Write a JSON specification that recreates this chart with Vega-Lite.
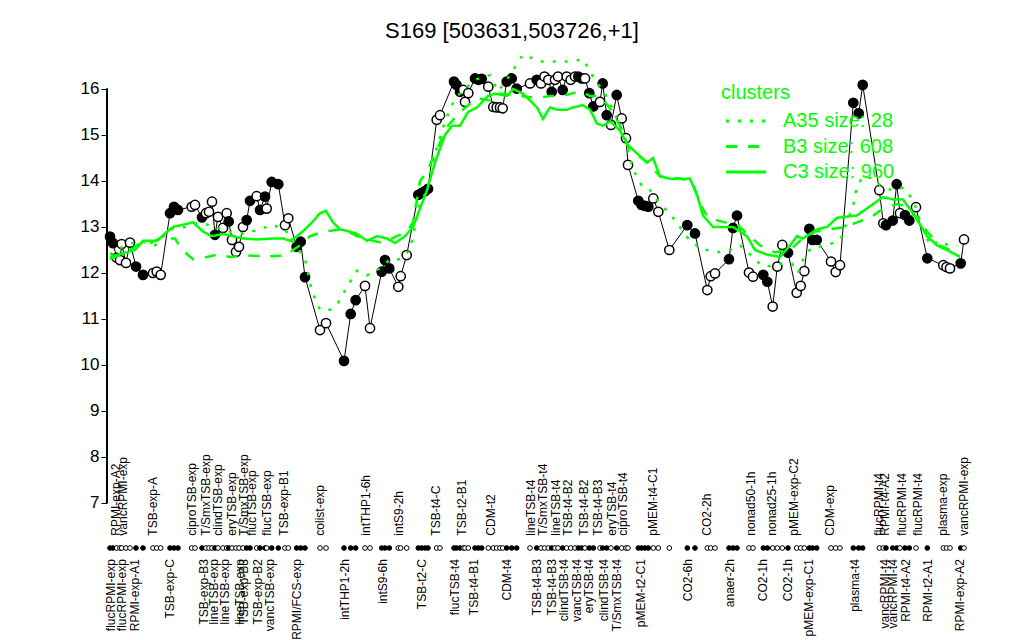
{
"$schema": "https://vega.github.io/schema/vega-lite/v6.json",
"width": 1024, "height": 580,
"autosize": "none",
"padding": {"left": 0, "top": 60, "right": 0, "bottom": 0},
"background": "white",
"title": {"text": "S169 [503631,503726,+1]", "fontSize": 22, "font": "Liberation Sans", "fontWeight": "normal", "anchor": "middle", "frame": "group", "offset": 6, "color": "black"},
"config": {"view": {"stroke": null}},
"datasets": {
"pts": [
{"p":110,"v":12.79,"f":1},{"p":113,"v":12.65,"f":1},{"p":116.7,"v":12.33,"f":0},{"p":120,"v":12.28,"f":0},{"p":121.7,"v":12.63,"f":0},{"p":126,"v":12.22,"f":0},{"p":130,"v":12.66,"f":0},{"p":136,"v":12.14,"f":1},{"p":143,"v":11.96,"f":1},{"p":153,"v":12.0,"f":0},{"p":156.7,"v":12.03,"f":0},{"p":160.7,"v":11.96,"f":0},
{"p":170,"v":13.3,"f":1},{"p":174,"v":13.44,"f":1},{"p":178,"v":13.37,"f":1},{"p":191.7,"v":13.44,"f":0},{"p":195,"v":13.48,"f":0},
{"p":202,"v":13.21,"f":1},{"p":206,"v":13.3,"f":0},{"p":209,"v":13.33,"f":0},{"p":212,"v":13.55,"f":0},{"p":215,"v":12.83,"f":1},{"p":218,"v":13.22,"f":0},{"p":223,"v":12.98,"f":0},{"p":226.7,"v":13.3,"f":0},{"p":228.7,"v":13.12,"f":1},{"p":232,"v":12.72,"f":0},{"p":236,"v":12.46,"f":0},{"p":239,"v":12.57,"f":0},{"p":243,"v":13.0,"f":0},{"p":246.7,"v":13.15,"f":1},{"p":250,"v":13.57,"f":1},{"p":256.7,"v":13.67,"f":0},{"p":260,"v":13.37,"f":1},{"p":265,"v":13.66,"f":1},{"p":266.7,"v":13.4,"f":0},{"p":271.7,"v":13.98,"f":1},{"p":278.3,"v":13.93,"f":1},{"p":285,"v":13.04,"f":0},{"p":288.3,"v":13.19,"f":0},{"p":296.7,"v":12.57,"f":1},{"p":300.7,"v":12.68,"f":1},{"p":305,"v":11.91,"f":1},
{"p":320,"v":10.76,"f":0},{"p":326,"v":10.91,"f":0},{"p":344,"v":10.09,"f":1},{"p":350.7,"v":11.11,"f":1},{"p":355.7,"v":11.41,"f":1},{"p":365,"v":11.72,"f":0},{"p":370,"v":10.8,"f":0},{"p":381.7,"v":12.03,"f":1},{"p":385,"v":12.28,"f":1},{"p":389.3,"v":12.1,"f":1},{"p":398.3,"v":11.7,"f":0},{"p":400.7,"v":11.93,"f":0},{"p":406.7,"v":12.39,"f":0},
{"p":418.3,"v":13.7,"f":1},{"p":421.7,"v":13.74,"f":1},{"p":425,"v":13.78,"f":1},{"p":428,"v":13.83,"f":1},{"p":436.7,"v":15.33,"f":0},{"p":440,"v":15.43,"f":0},{"p":454,"v":16.16,"f":1},{"p":456.5,"v":16.09,"f":1},{"p":460,"v":15.94,"f":1},{"p":463.3,"v":15.98,"f":0},{"p":465,"v":15.72,"f":0},{"p":468.3,"v":15.91,"f":0},{"p":475,"v":16.23,"f":1},{"p":478.3,"v":16.2,"f":1},{"p":481.7,"v":16.22,"f":1},
{"p":488.3,"v":16.05,"f":0},{"p":493.3,"v":15.61,"f":0},{"p":496.7,"v":15.6,"f":0},{"p":500,"v":15.6,"f":0},{"p":502.7,"v":15.58,"f":0},{"p":506.7,"v":16.16,"f":1},{"p":511.7,"v":16.23,"f":1},{"p":516.7,"v":16.01,"f":1},
{"p":530,"v":16.12,"f":0},{"p":536.7,"v":16.2,"f":1},{"p":541,"v":16.12,"f":0},{"p":544.5,"v":16.27,"f":0},{"p":548.3,"v":16.2,"f":0},{"p":551.7,"v":15.94,"f":1},{"p":555,"v":16.2,"f":0},{"p":558,"v":16.27,"f":0},{"p":562.7,"v":15.98,"f":1},{"p":566.7,"v":16.27,"f":0},{"p":570.7,"v":16.2,"f":0},{"p":575,"v":16.27,"f":0},{"p":578.3,"v":16.27,"f":1},{"p":581.7,"v":16.23,"f":1},{"p":585,"v":16.23,"f":0},{"p":589.3,"v":15.91,"f":1},{"p":593.3,"v":15.62,"f":1},{"p":600,"v":15.72,"f":0},{"p":602.7,"v":16.12,"f":1},{"p":606.7,"v":15.43,"f":1},{"p":611,"v":15.22,"f":0},{"p":616.7,"v":15.87,"f":1},{"p":621.7,"v":15.36,"f":0},{"p":626,"v":14.93,"f":0},{"p":628,"v":14.35,"f":0},
{"p":638.3,"v":13.57,"f":1},{"p":641.5,"v":13.48,"f":1},{"p":645,"v":13.46,"f":1},{"p":648.3,"v":13.44,"f":1},{"p":653.3,"v":13.62,"f":0},{"p":658.3,"v":13.33,"f":0},{"p":669.3,"v":12.5,"f":0},
{"p":687.3,"v":13.04,"f":1},{"p":695,"v":12.86,"f":1},{"p":707.3,"v":11.63,"f":0},{"p":710.7,"v":11.93,"f":0},{"p":715,"v":11.99,"f":0},{"p":729,"v":12.3,"f":1},{"p":733,"v":12.98,"f":1},{"p":737,"v":13.25,"f":1},{"p":749,"v":12.01,"f":0},{"p":753,"v":11.92,"f":0},{"p":763.3,"v":11.96,"f":1},{"p":767.3,"v":11.81,"f":1},{"p":772.7,"v":11.27,"f":0},{"p":777.3,"v":12.14,"f":0},{"p":782.3,"v":12.61,"f":0},{"p":788,"v":12.44,"f":1},{"p":796.7,"v":11.57,"f":0},{"p":800.7,"v":11.72,"f":0},{"p":804.3,"v":12.04,"f":0},{"p":809.3,"v":12.96,"f":1},{"p":812.5,"v":12.72,"f":1},{"p":816.7,"v":12.72,"f":1},{"p":831,"v":12.25,"f":0},{"p":835.7,"v":12.02,"f":0},{"p":840,"v":12.17,"f":0},
{"p":853.3,"v":15.7,"f":1},{"p":858.7,"v":15.47,"f":1},{"p":862.7,"v":16.09,"f":1},{"p":879.3,"v":13.8,"f":0},{"p":883.3,"v":13.08,"f":0},{"p":886,"v":13.04,"f":1},{"p":892.7,"v":13.14,"f":1},{"p":896.7,"v":13.93,"f":1},{"p":900,"v":13.3,"f":0},{"p":905,"v":13.26,"f":1},{"p":909.3,"v":13.14,"f":1},{"p":916,"v":13.43,"f":0},{"p":927.3,"v":12.32,"f":1},{"p":943.3,"v":12.17,"f":0},{"p":946.5,"v":12.13,"f":0},{"p":950,"v":12.1,"f":0},{"p":960.7,"v":12.21,"f":1},{"p":964,"v":12.73,"f":0}
],
"lines": [
{"c":"C3 size: 960","p":110,"v":12.35},{"c":"C3 size: 960","p":135,"v":12.5},{"c":"C3 size: 960","p":143,"v":12.7},{"c":"C3 size: 960","p":157,"v":12.7},{"c":"C3 size: 960","p":167,"v":12.9},{"c":"C3 size: 960","p":173,"v":13.0},{"c":"C3 size: 960","p":193,"v":13.1},{"c":"C3 size: 960","p":203,"v":12.9},{"c":"C3 size: 960","p":212,"v":12.8},{"c":"C3 size: 960","p":223,"v":12.85},{"c":"C3 size: 960","p":233,"v":12.8},{"c":"C3 size: 960","p":243,"v":12.75},{"c":"C3 size: 960","p":257,"v":12.73},{"c":"C3 size: 960","p":273,"v":12.75},{"c":"C3 size: 960","p":283,"v":12.75},{"c":"C3 size: 960","p":290,"v":12.7},{"c":"C3 size: 960","p":297,"v":12.8},{"c":"C3 size: 960","p":305,"v":12.95},{"c":"C3 size: 960","p":312,"v":13.1},{"c":"C3 size: 960","p":320,"v":13.3},{"c":"C3 size: 960","p":326,"v":13.35},{"c":"C3 size: 960","p":333,"v":13.1},{"c":"C3 size: 960","p":340,"v":12.95},{"c":"C3 size: 960","p":350,"v":12.9},{"c":"C3 size: 960","p":357,"v":12.85},{"c":"C3 size: 960","p":367,"v":12.7},{"c":"C3 size: 960","p":377,"v":12.8},{"c":"C3 size: 960","p":387,"v":12.75},{"c":"C3 size: 960","p":395,"v":12.65},{"c":"C3 size: 960","p":405,"v":12.8},{"c":"C3 size: 960","p":413,"v":13.0},{"c":"C3 size: 960","p":420,"v":13.4},{"c":"C3 size: 960","p":427,"v":13.8},{"c":"C3 size: 960","p":435,"v":14.4},{"c":"C3 size: 960","p":445,"v":15.0},{"c":"C3 size: 960","p":452,"v":15.2},{"c":"C3 size: 960","p":460,"v":15.2},{"c":"C3 size: 960","p":468,"v":15.5},{"c":"C3 size: 960","p":477,"v":15.6},{"c":"C3 size: 960","p":488,"v":15.85},{"c":"C3 size: 960","p":495,"v":15.9},{"c":"C3 size: 960","p":507,"v":15.85},{"c":"C3 size: 960","p":513,"v":16.0},{"c":"C3 size: 960","p":523,"v":15.9},{"c":"C3 size: 960","p":530,"v":15.75},{"c":"C3 size: 960","p":537,"v":15.6},{"c":"C3 size: 960","p":543,"v":15.35},{"c":"C3 size: 960","p":550,"v":15.6},{"c":"C3 size: 960","p":557,"v":15.55},{"c":"C3 size: 960","p":567,"v":15.55},{"c":"C3 size: 960","p":573,"v":15.6},{"c":"C3 size: 960","p":583,"v":15.65},{"c":"C3 size: 960","p":590,"v":15.55},{"c":"C3 size: 960","p":597,"v":15.25},{"c":"C3 size: 960","p":603,"v":15.2},{"c":"C3 size: 960","p":610,"v":15.3},{"c":"C3 size: 960","p":620,"v":15.1},{"c":"C3 size: 960","p":627,"v":14.8},{"c":"C3 size: 960","p":637,"v":14.6},{"c":"C3 size: 960","p":647,"v":14.4},{"c":"C3 size: 960","p":653,"v":14.5},{"c":"C3 size: 960","p":660,"v":14.1},{"c":"C3 size: 960","p":670,"v":14.05},{"c":"C3 size: 960","p":690,"v":14.05},{"c":"C3 size: 960","p":697,"v":13.7},{"c":"C3 size: 960","p":703,"v":13.25},{"c":"C3 size: 960","p":713,"v":13.0},{"c":"C3 size: 960","p":733,"v":13.0},{"c":"C3 size: 960","p":747,"v":12.8},{"c":"C3 size: 960","p":755,"v":12.5},{"c":"C3 size: 960","p":767,"v":12.4},{"c":"C3 size: 960","p":780,"v":12.35},{"c":"C3 size: 960","p":790,"v":12.6},{"c":"C3 size: 960","p":797,"v":12.8},{"c":"C3 size: 960","p":803,"v":12.75},{"c":"C3 size: 960","p":817,"v":12.95},{"c":"C3 size: 960","p":827,"v":13.0},{"c":"C3 size: 960","p":837,"v":13.2},{"c":"C3 size: 960","p":857,"v":13.25},{"c":"C3 size: 960","p":870,"v":13.45},{"c":"C3 size: 960","p":883,"v":13.65},{"c":"C3 size: 960","p":893,"v":13.6},{"c":"C3 size: 960","p":903,"v":13.6},{"c":"C3 size: 960","p":913,"v":13.3},{"c":"C3 size: 960","p":923,"v":12.95},{"c":"C3 size: 960","p":927,"v":12.8},{"c":"C3 size: 960","p":937,"v":12.6},{"c":"C3 size: 960","p":947,"v":12.5},{"c":"C3 size: 960","p":960,"v":12.35},
{"c":"B3 size: 608","p":110,"v":12.3},{"c":"B3 size: 608","p":130,"v":12.5},{"c":"B3 size: 608","p":140,"v":12.65},{"c":"B3 size: 608","p":150,"v":12.65},{"c":"B3 size: 608","p":160,"v":12.75},{"c":"B3 size: 608","p":175,"v":12.75},{"c":"B3 size: 608","p":182,"v":12.5},{"c":"B3 size: 608","p":193,"v":12.3},{"c":"B3 size: 608","p":207,"v":12.35},{"c":"B3 size: 608","p":217,"v":12.4},{"c":"B3 size: 608","p":230,"v":12.35},{"c":"B3 size: 608","p":247,"v":12.38},{"c":"B3 size: 608","p":267,"v":12.36},{"c":"B3 size: 608","p":287,"v":12.38},{"c":"B3 size: 608","p":293,"v":12.5},{"c":"B3 size: 608","p":300,"v":12.6},{"c":"B3 size: 608","p":310,"v":12.8},{"c":"B3 size: 608","p":323,"v":12.9},{"c":"B3 size: 608","p":343,"v":12.95},{"c":"B3 size: 608","p":357,"v":12.8},{"c":"B3 size: 608","p":373,"v":12.7},{"c":"B3 size: 608","p":383,"v":12.65},{"c":"B3 size: 608","p":397,"v":12.8},{"c":"B3 size: 608","p":407,"v":12.9},{"c":"B3 size: 608","p":413,"v":13.1},{"c":"B3 size: 608","p":420,"v":14.0},{"c":"B3 size: 608","p":427,"v":14.2},{"c":"B3 size: 608","p":435,"v":14.6},{"c":"B3 size: 608","p":448,"v":15.2},{"c":"B3 size: 608","p":460,"v":15.5},{"c":"B3 size: 608","p":477,"v":15.8},{"c":"B3 size: 608","p":490,"v":15.75},{"c":"B3 size: 608","p":500,"v":15.9},{"c":"B3 size: 608","p":520,"v":15.85},{"c":"B3 size: 608","p":537,"v":15.8},{"c":"B3 size: 608","p":550,"v":15.85},{"c":"B3 size: 608","p":563,"v":15.85},{"c":"B3 size: 608","p":580,"v":15.95},{"c":"B3 size: 608","p":590,"v":15.85},{"c":"B3 size: 608","p":600,"v":15.85},{"c":"B3 size: 608","p":613,"v":15.5},{"c":"B3 size: 608","p":620,"v":15.2},{"c":"B3 size: 608","p":628,"v":14.75},{"c":"B3 size: 608","p":638,"v":14.55},{"c":"B3 size: 608","p":648,"v":14.4},{"c":"B3 size: 608","p":660,"v":14.1},{"c":"B3 size: 608","p":680,"v":14.05},{"c":"B3 size: 608","p":692,"v":14.0},{"c":"B3 size: 608","p":700,"v":13.5},{"c":"B3 size: 608","p":708,"v":13.2},{"c":"B3 size: 608","p":725,"v":13.1},{"c":"B3 size: 608","p":737,"v":13.05},{"c":"B3 size: 608","p":750,"v":12.8},{"c":"B3 size: 608","p":760,"v":12.6},{"c":"B3 size: 608","p":775,"v":12.45},{"c":"B3 size: 608","p":790,"v":12.5},{"c":"B3 size: 608","p":800,"v":12.7},{"c":"B3 size: 608","p":815,"v":12.9},{"c":"B3 size: 608","p":830,"v":12.95},{"c":"B3 size: 608","p":845,"v":13.0},{"c":"B3 size: 608","p":857,"v":13.1},{"c":"B3 size: 608","p":870,"v":13.2},{"c":"B3 size: 608","p":883,"v":13.4},{"c":"B3 size: 608","p":897,"v":13.5},{"c":"B3 size: 608","p":907,"v":13.45},{"c":"B3 size: 608","p":917,"v":13.2},{"c":"B3 size: 608","p":927,"v":12.9},{"c":"B3 size: 608","p":940,"v":12.6},{"c":"B3 size: 608","p":950,"v":12.5},{"c":"B3 size: 608","p":960,"v":12.4},
{"c":"A35 size: 28","p":110,"v":12.4},{"c":"A35 size: 28","p":125,"v":12.6},{"c":"A35 size: 28","p":140,"v":12.7},{"c":"A35 size: 28","p":155,"v":12.6},{"c":"A35 size: 28","p":170,"v":12.95},{"c":"A35 size: 28","p":185,"v":13.0},{"c":"A35 size: 28","p":200,"v":13.1},{"c":"A35 size: 28","p":215,"v":13.0},{"c":"A35 size: 28","p":230,"v":12.9},{"c":"A35 size: 28","p":243,"v":12.85},{"c":"A35 size: 28","p":260,"v":12.95},{"c":"A35 size: 28","p":272,"v":13.05},{"c":"A35 size: 28","p":285,"v":12.95},{"c":"A35 size: 28","p":295,"v":12.6},{"c":"A35 size: 28","p":305,"v":12.3},{"c":"A35 size: 28","p":312,"v":11.6},{"c":"A35 size: 28","p":320,"v":11.2},{"c":"A35 size: 28","p":330,"v":11.2},{"c":"A35 size: 28","p":338,"v":11.35},{"c":"A35 size: 28","p":347,"v":11.7},{"c":"A35 size: 28","p":357,"v":12.05},{"c":"A35 size: 28","p":367,"v":11.95},{"c":"A35 size: 28","p":380,"v":12.1},{"c":"A35 size: 28","p":390,"v":12.3},{"c":"A35 size: 28","p":400,"v":12.3},{"c":"A35 size: 28","p":410,"v":12.5},{"c":"A35 size: 28","p":420,"v":13.5},{"c":"A35 size: 28","p":427,"v":13.8},{"c":"A35 size: 28","p":435,"v":14.6},{"c":"A35 size: 28","p":445,"v":15.3},{"c":"A35 size: 28","p":455,"v":15.8},{"c":"A35 size: 28","p":465,"v":16.0},{"c":"A35 size: 28","p":475,"v":16.2},{"c":"A35 size: 28","p":490,"v":16.3},{"c":"A35 size: 28","p":498,"v":15.95},{"c":"A35 size: 28","p":510,"v":16.3},{"c":"A35 size: 28","p":523,"v":16.75},{"c":"A35 size: 28","p":540,"v":16.6},{"c":"A35 size: 28","p":552,"v":16.6},{"c":"A35 size: 28","p":572,"v":16.6},{"c":"A35 size: 28","p":583,"v":16.65},{"c":"A35 size: 28","p":595,"v":16.2},{"c":"A35 size: 28","p":605,"v":15.9},{"c":"A35 size: 28","p":613,"v":15.55},{"c":"A35 size: 28","p":625,"v":14.95},{"c":"A35 size: 28","p":633,"v":14.25},{"c":"A35 size: 28","p":643,"v":13.85},{"c":"A35 size: 28","p":650,"v":13.8},{"c":"A35 size: 28","p":660,"v":13.5},{"c":"A35 size: 28","p":667,"v":13.35},{"c":"A35 size: 28","p":673,"v":13.2},{"c":"A35 size: 28","p":690,"v":12.7},{"c":"A35 size: 28","p":703,"v":12.5},{"c":"A35 size: 28","p":712,"v":12.5},{"c":"A35 size: 28","p":720,"v":12.45},{"c":"A35 size: 28","p":730,"v":12.5},{"c":"A35 size: 28","p":740,"v":12.6},{"c":"A35 size: 28","p":748,"v":12.45},{"c":"A35 size: 28","p":755,"v":12.3},{"c":"A35 size: 28","p":762,"v":12.15},{"c":"A35 size: 28","p":770,"v":12.15},{"c":"A35 size: 28","p":780,"v":12.2},{"c":"A35 size: 28","p":792,"v":12.2},{"c":"A35 size: 28","p":798,"v":12.0},{"c":"A35 size: 28","p":805,"v":12.4},{"c":"A35 size: 28","p":812,"v":12.55},{"c":"A35 size: 28","p":828,"v":12.6},{"c":"A35 size: 28","p":841,"v":12.75},{"c":"A35 size: 28","p":845,"v":13.0},{"c":"A35 size: 28","p":853,"v":13.45},{"c":"A35 size: 28","p":857,"v":13.9},{"c":"A35 size: 28","p":863,"v":14.1},{"c":"A35 size: 28","p":873,"v":14.05},{"c":"A35 size: 28","p":883,"v":13.85},{"c":"A35 size: 28","p":893,"v":13.8},{"c":"A35 size: 28","p":903,"v":13.85},{"c":"A35 size: 28","p":913,"v":13.6},{"c":"A35 size: 28","p":922,"v":13.0},{"c":"A35 size: 28","p":930,"v":12.6},{"c":"A35 size: 28","p":940,"v":12.7},{"c":"A35 size: 28","p":948,"v":12.6},{"c":"A35 size: 28","p":957,"v":12.6}
],
"labs": [
{"p":116,"t":"RPMI-exp-A2","s":"top"},{"p":123.3,"t":"vancRPMI-exp","s":"top"},{"p":153.3,"t":"TSB-exp-A","s":"top"},{"p":191.7,"t":"ciproTSB-exp","s":"top"},{"p":206,"t":"T/SmxTSB-exp","s":"top"},{"p":217.7,"t":"clindTSB-exp","s":"top"},{"p":231.7,"t":"eryTSB-exp","s":"top"},{"p":244,"t":"T/SmxTSB-exp","s":"top"},{"p":251.7,"t":"flucTSB-exp","s":"top"},{"p":266.7,"t":"flucTSB-exp","s":"top"},{"p":284.3,"t":"TSB-exp-B1","s":"top"},{"p":320,"t":"colist-exp","s":"top"},{"p":366,"t":"intTHP1-6h","s":"top"},{"p":399.3,"t":"intS9-2h","s":"top"},{"p":436,"t":"TSB-t4-C","s":"top"},{"p":461.7,"t":"TSB-t2-B1","s":"top"},{"p":491,"t":"CDM-t2","s":"top"},{"p":531,"t":"lineTSB-t4","s":"top"},{"p":543.3,"t":"T/SmxTSB-t4","s":"top"},{"p":556,"t":"lineTSB-t4","s":"top"},{"p":568.3,"t":"TSB-t4-B2","s":"top"},{"p":584,"t":"TSB-t4-B2","s":"top"},{"p":598.3,"t":"TSB-t4-B3","s":"top"},{"p":611.7,"t":"eryTSB-t4","s":"top"},{"p":622.7,"t":"ciproTSB-t4","s":"top"},{"p":653.3,"t":"pMEM-t4-C1","s":"top"},{"p":707.3,"t":"CO2-2h","s":"top"},{"p":751,"t":"nonad50-1h","s":"top"},{"p":771.7,"t":"nonad25-1h","s":"top"},{"p":794,"t":"pMEM-exp-C2","s":"top"},{"p":830,"t":"CDM-exp","s":"top"},{"p":879.3,"t":"flucRPMI-t4","s":"top"},{"p":885,"t":"RPMI-t4-A2","s":"top"},{"p":901.7,"t":"flucRPMI-t4","s":"top"},{"p":918.3,"t":"flucRPMI-t4","s":"top"},{"p":943.3,"t":"plasma-exp","s":"top"},{"p":964,"t":"vancRPMI-exp","s":"top"},
{"p":110.7,"t":"flucRPMI-exp","s":"bottom"},{"p":121.7,"t":"flucRPMI-exp","s":"bottom"},{"p":135,"t":"RPMI-exp-A1","s":"bottom"},{"p":170,"t":"TSB-exp-C","s":"bottom"},{"p":204,"t":"TSB-exp-B3","s":"bottom"},{"p":214,"t":"lineTSB-exp","s":"bottom"},{"p":225,"t":"lineTSB-exp","s":"bottom"},{"p":240,"t":"lineTSB-exp","s":"bottom"},{"p":244,"t":"TSB-exp-B3","s":"bottom"},{"p":258.3,"t":"TSB-exp-B2","s":"bottom"},{"p":270,"t":"vancTSB-exp","s":"bottom"},{"p":296.7,"t":"RPMI/FCS-exp","s":"bottom"},{"p":345,"t":"intTHP1-2h","s":"bottom"},{"p":383,"t":"intS9-6h","s":"bottom"},{"p":421.7,"t":"TSB-t2-C","s":"bottom"},{"p":455,"t":"flucTSB-t4","s":"bottom"},{"p":474,"t":"TSB-t4-B1","s":"bottom"},{"p":506.7,"t":"CDM-t4","s":"bottom"},{"p":536.7,"t":"TSB-t4-B3","s":"bottom"},{"p":551.7,"t":"TSB-t4-B3","s":"bottom"},{"p":564,"t":"clindTSB-t4","s":"bottom"},{"p":577.3,"t":"vancTSB-t4","s":"bottom"},{"p":589.3,"t":"eryTSB-t4","s":"bottom"},{"p":604,"t":"clindTSB-t4","s":"bottom"},{"p":616.7,"t":"T/SmxTSB-t4","s":"bottom"},{"p":640.7,"t":"pMEM-t2-C1","s":"bottom"},{"p":688.3,"t":"CO2-6h","s":"bottom"},{"p":730,"t":"anaer-2h","s":"bottom"},{"p":763.3,"t":"CO2-1h","s":"bottom"},{"p":788.3,"t":"CO2-1h","s":"bottom"},{"p":809.3,"t":"pMEM-exp-C1","s":"bottom"},{"p":855,"t":"plasma-t4","s":"bottom"},{"p":885,"t":"vancRPMI-t4","s":"bottom"},{"p":892.7,"t":"vancRPMI-t4","s":"bottom"},{"p":906,"t":"RPMI-t4-A2","s":"bottom"},{"p":928.3,"t":"RPMI-t2-A1","s":"bottom"},{"p":960,"t":"RPMI-exp-A2","s":"bottom"}
]
},
"layer": [
{"data": {"name": "pts"}, "mark": {"type": "line", "color": "black", "strokeWidth": 1},
 "encoding": {
  "x": {"field": "p", "type": "quantitative", "scale": {"domain": [0, 1024], "nice": false, "zero": false}, "axis": null},
  "y": {"field": "v", "type": "quantitative", "scale": {"domain": [4.0217, 16.6304], "nice": false, "zero": false},
        "axis": {"values": [7,8,9,10,11,12,13,14,15,16], "offset": -107, "domain": false, "grid": false, "title": null, "tickSize": 6, "tickColor": "black", "labelColor": "black", "labelFont": "Liberation Sans", "labelFontSize": 17, "labelPadding": 2}}}},
{"data": {"name": "pts"}, "mark": {"type": "circle", "stroke": "black", "strokeWidth": 1.5, "opacity": 1, "size": 85},
 "encoding": {
  "x": {"field": "p", "type": "quantitative"},
  "y": {"field": "v", "type": "quantitative"},
  "fill": {"field": "f", "type": "nominal", "scale": {"domain": [0, 1], "range": ["white", "black"]}, "legend": null}}},
{"data": {"name": "pts"}, "mark": {"type": "circle", "stroke": "black", "strokeWidth": 1, "opacity": 1, "size": 22},
 "encoding": {
  "x": {"field": "p", "type": "quantitative"},
  "y": {"datum": 6.022},
  "fill": {"field": "f", "type": "nominal", "legend": null}}},
{"data": {"name": "lines"}, "mark": {"type": "line", "color": "#00ff00", "strokeWidth": 2.5, "strokeCap": "butt"},
 "encoding": {
  "x": {"field": "p", "type": "quantitative"},
  "y": {"field": "v", "type": "quantitative"},
  "strokeDash": {"field": "c", "type": "nominal",
    "scale": {"domain": ["A35 size: 28", "B3 size: 608", "C3 size: 960"], "range": [[3, 9], [11, 11], [1, 0]]},
    "legend": {"orient": "none", "legendX": 721, "legendY": 23, "title": "clusters", "padding": 0,
      "titleColor": "#00ff00", "titleFontSize": 20, "titleFontWeight": "normal", "titleFont": "Liberation Sans", "titlePadding": 8,
      "labelColor": "#00ff00", "labelFontSize": 20, "labelFont": "Liberation Sans", "labelOffset": 42,
      "symbolType": "M-1,0H7", "symbolSize": 100, "symbolStrokeColor": "#00ff00", "symbolStrokeWidth": 3, "rowPadding": 5.5}}}},
{"data": {"name": "pts"}, "mark": {"type": "rule", "color": "black", "strokeWidth": 1},
 "encoding": {"x": {"datum": 107}, "y": {"datum": 7}, "y2": {"datum": 16}}},
{"data": {"name": "labs"}, "transform": [{"filter": "datum.s == 'top'"}],
 "mark": {"type": "text", "angle": 270, "align": "left", "baseline": "middle", "font": "Liberation Sans", "fontSize": 12, "color": "black"},
 "encoding": {"x": {"field": "p", "type": "quantitative"}, "y": {"datum": 6.29}, "text": {"field": "t"}}},
{"data": {"name": "labs"}, "transform": [{"filter": "datum.s == 'bottom'"}],
 "mark": {"type": "text", "angle": 270, "align": "right", "baseline": "middle", "font": "Liberation Sans", "fontSize": 12, "color": "black"},
 "encoding": {"x": {"field": "p", "type": "quantitative"}, "y": {"datum": 5.78}, "text": {"field": "t"}}}
]
}
